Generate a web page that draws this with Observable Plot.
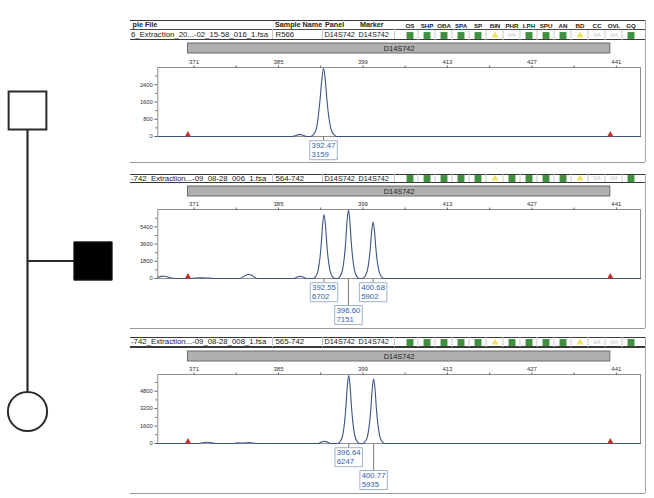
<!DOCTYPE html>
<html><head><meta charset="utf-8">
<script src="https://cdn.jsdelivr.net/npm/d3@7"></script>
<script src="https://cdn.jsdelivr.net/npm/@observablehq/plot@0.6"></script>
<style>
body{margin:0;background:#fff;}
#root{position:relative;width:654px;height:498px;overflow:hidden;font-family:"Liberation Sans",Arial,sans-serif;background:#fff;}
#root svg{position:absolute;overflow:visible;}
.t{position:absolute;font-size:7.8px;color:#222;white-space:nowrap;line-height:1;transform:translateY(-50%);}
.b{font-weight:bold;font-size:7.2px;}
.s{font-size:7.3px;}
.ln{position:absolute;}
</style></head><body><div id="root"></div>
<script>
// ---------- data ----------
const sizeDomain = [365, 445];
const majorTicks = [371, 385, 399, 413, 427, 441];
const minorTicks = [378, 392, 406, 420, 434];
const markerName = "D14S742";
const binRange = [370, 440];
const headerCols = ["ple File", "Sample Name", "Panel", "Marker"];
const statusCols = ["OS","SHP","OBA","SPA","SP","BIN","PHR","LPH","SPU","AN","BD","CC","OVL","GQ"];
const files = ["6_Extraction_20...-02_15-58_016_1.fsa", "-742_Extraction...-09_08-28_006_1.fsa", "-742_Extraction...-09_08-28_008_1.fsa"];
const samples = ["R566", "564-742", "565-742"];
const panels = ["D14S742", "D14S742", "D14S742"];
const markers = ["D14S742", "D14S742", "D14S742"];
const status1 = ["pass","pass","pass","pass","pass","check","na","pass","pass","pass","check","na","na","pass"];
const status2 = ["pass","pass","pass","pass","pass","check","pass","pass","pass","pass","check","na","na","pass"];
const status3 = ["pass","pass","pass","pass","pass","check","pass","pass","pass","pass","check","na","na","pass"];

const yMax1 = 3200, yMajor1 = [0, 800, 1600, 2400], yMinor1 = [400, 1200, 2000, 2800];
const yMax2 = 7220, yMajor2 = [0, 1800, 3600, 5400], yMinor2 = [900, 2700, 4500, 6300];
const yMax3 = 6330, yMajor3 = [0, 1600, 3200, 4800], yMinor3 = [800, 2400, 4000, 5600];

const peaks1 = [{size: 392.47, height: 3159}];
const peaks2 = [{size: 392.55, height: 6702}, {size: 396.60, height: 7151}, {size: 400.68, height: 5902}];
const peaks3 = [{size: 396.64, height: 6247}, {size: 400.77, height: 5935}];

// traces: [size (bp), RFU]
const trace1 = [[365,0],[387.3,0],[387.9,50],[388.5,100],[389.1,50],[389.7,0],
  [390.3,0],[390.8,95],[391.3,380],[391.6,950],[391.9,1740],[392.17,2590],[392.47,3159],[392.77,2590],[393.02,1740],[393.32,950],[393.67,380],[394.17,95],[394.67,0],
  [445,0]];
const trace2 = [[365,120],[365.6,220],[366.2,230],[366.9,120],[367.6,20],[368.5,0],[370.5,0],[371.2,60],[372,80],[372.8,60],[373.6,40],[374.4,0],
  [378.6,0],[379.3,250],[380,420],[380.7,280],[381.3,30],[381.8,0],[387.6,0],[388.1,160],[388.6,230],[389.1,150],[389.6,0],
  [390.75,0],[391.15,200],[391.55,800],[391.85,2010],[392.1,3690],[392.3,5500],[392.55,6702],[392.8,5500],[393,3690],[393.25,2010],[393.55,800],[393.95,200],[394.35,0],
  [394.8,0],[395.2,215],[395.6,860],[395.9,2145],[396.15,3930],[396.35,5860],[396.6,7151],[396.85,5860],[397.05,3930],[397.3,2145],[397.6,860],[398,215],[398.4,0],
  [398.88,0],[399.28,180],[399.68,710],[399.98,1770],[400.23,3250],[400.43,4840],[400.68,5902],[400.93,4840],[401.13,3250],[401.38,1770],[401.68,710],[402.08,180],[402.48,0],
  [445,0]];
const trace3 = [[365,0],[371.8,0],[372.5,70],[373.2,120],[373.9,60],[374.6,0],[377.4,0],[378.2,60],[378.9,30],[379.6,70],[380.3,80],[381,30],[381.6,0],
  [391.6,0],[392.1,130],[392.6,210],[393.1,130],[393.6,0],
  [394.84,0],[395.24,190],[395.64,750],[395.94,1870],[396.19,3440],[396.39,5120],[396.64,6247],[396.89,5120],[397.09,3440],[397.34,1870],[397.64,750],[398.04,190],[398.44,0],
  [398.97,0],[399.37,180],[399.77,710],[400.07,1780],[400.32,3260],[400.52,4870],[400.77,5935],[401.02,4870],[401.22,3260],[401.47,1780],[401.77,710],[402.17,180],[402.57,0],
  [445,0]];

// pedigree
const members = [
  {name: "father", col: 0, gen: 0, sex: "M", affected: false},
  {name: "son", col: 1, gen: 1, sex: "M", affected: true},
  {name: "daughter", col: 0, gen: 2, sex: "F", affected: false}
];
const pedLinks = [
  {c1: 0, g1: 0, c2: 0, g2: 2},
  {c1: 0, g1: 1, c2: 1, g2: 1}
];

// ---------- layout ----------
const root = document.getElementById("root");
const FONT = "Liberation Sans, Arial, sans-serif";
const W = 524, LEFT = 130, ML = 27.3, MR = 14, MT = 14, FH = 69, MB = 48;
const layout = [
  {rowTop: 20.5, hdrY: 25, midLine: 29.3, rowBottom: 39.3, textY: 35, barTop: 43.3, frameTop: 67.3, bottom: 162, header: true},
  {rowTop: 174.3, rowBottom: 182.5, textY: 178.5, barTop: 185.5, frameTop: 209.3, bottom: 328, header: false},
  {rowTop: 337.3, rowBottom: 346.8, textY: 342.2, barTop: 350.5, frameTop: 374.3, bottom: 493, header: false}
];

function place(el, x, y) { el.style.left = x + "px"; el.style.top = y + "px"; root.appendChild(el); return el; }
function line(x, y, w, h, color) {
  const d = document.createElement("div"); d.className = "ln";
  d.style.width = w + "px"; d.style.height = h + "px"; d.style.background = color;
  return place(d, x, y);
}
function label(text, x, y, cls) {
  const d = document.createElement("div"); d.className = "t" + (cls ? " " + cls : "");
  d.textContent = text; return place(d, x, y);
}

// pedigree plot
const ped = Plot.plot({
  width: 130, height: 498, marginTop: 0, marginBottom: 0, marginLeft: 0, marginRight: 0,
  style: {background: "transparent", overflow: "visible"},
  x: {domain: [0, 1], range: [27, 92.5], axis: null},
  y: {domain: [0, 2], range: [110, 411], axis: null},
  marks: [
    Plot.link(pedLinks, {x1: "c1", y1: "g1", x2: "c2", y2: "g2", stroke: "#2a2a2a", strokeWidth: 2.2}),
    Plot.dot(members.filter(m => m.sex === "M" && !m.affected), {x: "col", y: "gen", symbol: "square", r: 21.3, fill: "#fff", stroke: "#2a2a2a", strokeWidth: 2}),
    Plot.dot(members.filter(m => m.sex === "M" && m.affected), {x: "col", y: "gen", symbol: "square", r: 21.6, fill: "#000", stroke: "#222", strokeWidth: 1}),
    Plot.dot(members.filter(m => m.sex === "F"), {x: "col", y: "gen", symbol: "circle", r: 19.6, fill: "#fff", stroke: "#2a2a2a", strokeWidth: 2})
  ]
});
place(ped, 0, 0);

function boxSymbol(top, w, h) { return {draw(ctx) { ctx.rect(-w / 2, top, w, h); }}; }
function stemSymbol(top) { return {draw(ctx) { ctx.moveTo(0, 0); ctx.lineTo(0, top); }}; }
const boxTops = [4.2, 27];
const BOXW = 27.5, BOXH = 19;

function mainPlot(trace, peaks, yMax, yMajor, yMinor) {
  const data = trace.map(([s, r]) => ({size: s, rfu: r}));
  const lab = peaks.map((p, i) => ({...p, level: i % 2}));
  const lv = k => lab.filter(d => d.level === k);
  const marks = [
    Plot.frame({stroke: "#8e8e8e"}),
    Plot.axisX({anchor: "top", ticks: majorTicks, tickSize: 2.5, tickPadding: 1, tickFormat: d => String(d), fontSize: 6, label: null, stroke: "#666"}),
    Plot.axisX({anchor: "top", ticks: minorTicks, tickSize: 2.5, tickFormat: () => "", label: null, stroke: "#666"}),
    Plot.axisY({ticks: yMajor, tickSize: 3, tickPadding: 2, tickFormat: d => String(d), fontSize: 5.8, label: null, stroke: "#666"}),
    Plot.axisY({ticks: yMinor, tickSize: 2, tickFormat: () => "", label: null, stroke: "#666"}),
    Plot.line(data, {x: "size", y: "rfu", stroke: "#3a5583", strokeWidth: 1.1, curve: "monotone-x"}),
    Plot.dot(binRange, {x: d => d, y: 0, symbol: "triangle", r: 2.3, fill: "#cc2e2e", dy: -1.8})
  ];
  [0, 1].forEach(k => {
    marks.push(
      Plot.dot(lv(k), {x: "size", y: 0, symbol: stemSymbol(boxTops[k]), fill: "none", stroke: "#7c7c7c", strokeWidth: 1}),
      Plot.dot(lv(k), {x: "size", y: 0, symbol: boxSymbol(boxTops[k], BOXW, BOXH), fill: "#fff", stroke: "#9fb2cc", strokeWidth: 1}),
      Plot.text(lv(k), {x: "size", y: 0, text: d => `${d.size.toFixed(2)}\n${d.height}`, textAnchor: "start", lineAnchor: "top",
        dx: -BOXW / 2 + 1.8, dy: boxTops[k] + 1.3, fontSize: 7.8, lineHeight: 1.15, fill: "#3160b0"})
    );
  });
  return Plot.plot({
    width: W, height: MT + FH + MB, marginLeft: ML, marginRight: MR, marginTop: MT, marginBottom: MB,
    style: {background: "transparent", overflow: "visible", fontFamily: FONT, color: "#333"},
    x: {domain: sizeDomain, label: null},
    y: {domain: [0, yMax], label: null},
    marks
  });
}

function binPlot() {
  return Plot.plot({
    width: W, height: 10, marginLeft: ML, marginRight: MR, marginTop: 0, marginBottom: 0,
    style: {background: "transparent", overflow: "visible", fontFamily: FONT},
    x: {domain: sizeDomain, axis: null},
    marks: [
      Plot.rect([binRange], {x1: d => d[0], x2: d => d[1], fill: "#b0b0b0", stroke: "#6a6a6a"}),
      Plot.text([markerName], {x: () => (binRange[0] + binRange[1]) / 2, text: d => d, fontSize: 7.4, fill: "#222"})
    ]
  });
}

function statusPlot(statuses, withHeader, h) {
  const rows = statusCols.map((c, i) => ({col: c, status: statuses[i]}));
  const marks = [
    Plot.ruleX(statusCols.slice(1), {dx: -9, stroke: "#c9c9c9"}),
    Plot.dot(rows.filter(d => d.status === "pass"), {x: "col", symbol: "square", r: 3.9, fill: "#3f8f3f"}),
    Plot.dot(rows.filter(d => d.status === "check"), {x: "col", symbol: "triangle", r: 2.6, fill: "#efe35a"}),
    Plot.text(rows.filter(d => d.status === "na"), {x: "col", text: () => "N/A", fill: "#c0c0c0", fontSize: 4.5})
  ];
  if (withHeader) marks.push(Plot.axisX({anchor: "top", tickSize: 0, tickPadding: 2.5, fontSize: 6.2, fontWeight: "bold", label: null, fill: "#222"}));
  return Plot.plot({
    width: W, height: h, marginLeft: 264.3, marginRight: 7.7, marginTop: withHeader ? 9 : 0, marginBottom: 0,
    style: {background: "transparent", overflow: "visible", fontFamily: FONT},
    x: {type: "band", domain: statusCols, padding: 0, label: null, ...(withHeader ? {} : {axis: null})},
    marks
  });
}

const traces = [trace1, trace2, trace3];
const peakSets = [peaks1, peaks2, peaks3];
const yMaxes = [yMax1, yMax2, yMax3];
const yMajors = [yMajor1, yMajor2, yMajor3];
const yMinors = [yMinor1, yMinor2, yMinor3];
const statuses = [status1, status2, status3];

layout.forEach((L, i) => {
  line(LEFT, L.rowTop - 0.8, 515, 1.6, "#3a3a3a");
  if (L.header) line(LEFT, L.midLine - 0.6, 515, 1.3, "#4a4a4a");
  line(LEFT, L.rowBottom - 0.8, 515, 1.6, "#3a3a3a");
  line(644.5, L.rowTop - 0.8, 1, L.bottom - L.rowTop + 0.8, "#a8a8a8");
  const sepTop = L.header ? L.midLine : L.rowTop;
  [271.5, 321.5, 394.3].forEach(x => line(x, sepTop, 0.8, L.rowBottom - sepTop, "#c4c4c4"));
  const sp = statusPlot(statuses[i], L.header, Math.round(L.rowBottom - L.rowTop));
  place(sp, LEFT, L.rowTop);
  if (L.header) {
    label(headerCols[0], 132.5, L.hdrY, "b");
    label(headerCols[1], 275, L.hdrY, "b");
    label(headerCols[2], 325, L.hdrY, "b");
    label(headerCols[3], 360, L.hdrY, "b");
  }
  label(files[i], 131, L.textY);
  label(samples[i], 275.5, L.textY);
  label(panels[i], 324.5, L.textY, "s");
  label(markers[i], 358.5, L.textY, "s");
  place(binPlot(), LEFT, L.barTop);
  place(mainPlot(traces[i], peakSets[i], yMaxes[i], yMajors[i], yMinors[i]), LEFT, L.frameTop - MT);
  line(LEFT, L.bottom, 515, 1, "#9a9a9a");
});
</script></body></html>
